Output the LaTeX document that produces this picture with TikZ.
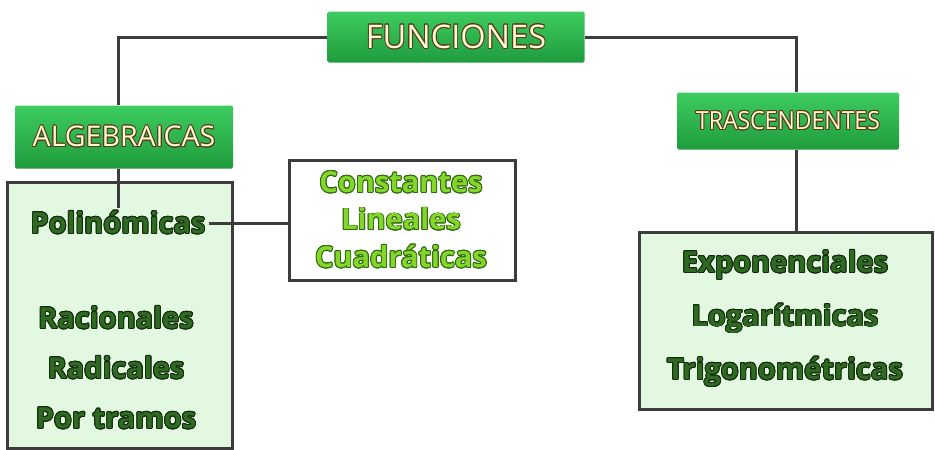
\documentclass[tikz,border=0pt]{standalone}
\usepackage{fontspec}
\setmainfont{Open Sans}
\newfontfamily\narrowfont{Open Sans}[FakeStretch=0.92]
\usepackage{contour}
\contourlength{0.9pt}
\usetikzlibrary{positioning}
\definecolor{hdrtop}{HTML}{3DCC60}
\definecolor{hdrbot}{HTML}{1F9C3D}
\definecolor{boxfill}{HTML}{E3F8E1}
\definecolor{linegray}{HTML}{3C3C3C}
\definecolor{itemgreen}{HTML}{2E6A22}
\definecolor{itemedge}{HTML}{142A0C}
\definecolor{limegreen}{HTML}{84D62A}
\definecolor{limeedge}{HTML}{2E6A10}
\definecolor{cream}{HTML}{FFF8DA}
\definecolor{brownedge}{HTML}{5A3A10}

\begin{document}
\begin{tikzpicture}[x=1pt, y=-1pt,
        hdr/.style={rounded corners=1.5pt, top color=hdrtop, bottom color=hdrbot,
                    text=cream, font=\fontsize{28.5}{30}\selectfont, inner sep=0pt},
        listbox/.style={draw=linegray, line width=3pt, fill=boxfill, inner sep=0pt},
        plainbox/.style={listbox, fill=white},
        item/.style={text=itemgreen, font=\fontsize{29}{50}\selectfont\bfseries, align=center},
        link/.style={draw=linegray, line width=3pt}]
        \useasboundingbox (0,0) rectangle (935,450);

        % header row
        \node[hdr, minimum width=257, minimum height=51, font=\fontsize{32.5}{34}\selectfont] (fun) at (456,37) {\contour{brownedge}{FUNCIONES}};
        \node[hdr, minimum width=218, minimum height=63] (alg) at (124,137) {\contour{brownedge}{ALGEBRAICAS}};
        \node[hdr, minimum width=222, minimum height=57, font=\narrowfont\fontsize{25}{27}\selectfont] (tras) at (788,121) {\contour{brownedge}{TRASCENDENTES}};

        % boxes
        \node[listbox, minimum width=225, minimum height=266] (algbox) at (120,315) {};
        \node[plainbox, minimum width=226, minimum height=120] (polybox) at (402,220) {};
        \node[listbox, minimum width=293, minimum height=177] (trasbox) at (786,321) {};

        % texts
        \node[item] (poli) at (118,223) {\contour{itemedge}{Polinómicas}};
        \node[item] (otras) at (116,368) {\contour{itemedge}{Racionales}\\\contour{itemedge}{Radicales}\\\contour{itemedge}{Por tramos}};
        \node[item, text=limegreen, font=\fontsize{29}{37.5}\selectfont\bfseries] (grados) at (401,220)
            {\contour{limeedge}{Constantes}\\\contour{limeedge}{Lineales}\\\contour{limeedge}{Cuadráticas}};
        \node[item, font=\fontsize{29}{53.5}\selectfont\bfseries] (trasc) at (785,319)
            {\contour{itemedge}{Exponenciales}\\\contour{itemedge}{Logarítmicas}\\\contour{itemedge}{Trigonométricas}};

        \draw[link] (fun.west) -| (poli.north |- alg.north);
        \draw[link] (fun.east) -| ([xshift=8]tras.north);
        \draw[link] (poli.north |- alg.south) -- (poli.north);
        \draw[link] (poli.east) -- (poli.east -| polybox.west);
        \draw[link] ([xshift=8]tras.south) -- ([xshift=8]tras.south |- trasbox.north);
    \end{tikzpicture}
\end{document}
